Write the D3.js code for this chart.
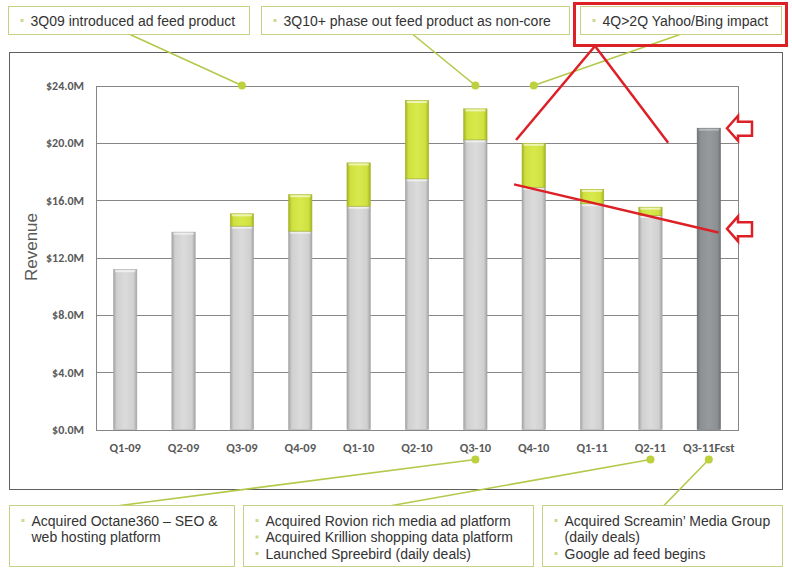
<!DOCTYPE html>
<html>
<head>
<meta charset="utf-8">
<script src="https://cdn.jsdelivr.net/npm/d3@7"></script>
<style>
body { margin: 0; background: #fff; }
</style>
</head>
<body>
<div class="chart"></div>
<script>
// quarters shown on the x axis
var categories = ["Q1-09", "Q2-09", "Q3-09", "Q4-09", "Q1-10", "Q2-10", "Q3-10", "Q4-10", "Q1-11", "Q2-11", "Q3-11Fcst"];
// revenue in $M
var coreRevenue = [11.15, 13.77, 14.19, 13.84, 15.58, 17.49, 20.21, 16.9, 15.75, 14.93, 0];
var feedRevenue = [0, 0, 0.86, 2.54, 3.02, 5.46, 2.16, 3.07, 1.0, 0.58, 0];
var forecastRevenue = [0, 0, 0, 0, 0, 0, 0, 0, 0, 0, 21.02];
var yTicks = [0, 4, 8, 12, 16, 20, 24];

// callouts
var topNotes = [["3Q09 introduced ad feed product"], ["3Q10+ phase out feed product as non-core"], ["4Q>2Q Yahoo/Bing impact"]];
var topNoteCats = ["Q3-09", "Q3-10", "Q4-10"];
var bottomNotes = [
	["Acquired Octane360 \u2013 SEO &", "web hosting platform"],
	["Acquired Rovion rich media ad platform", "Acquired Krillion shopping data platform", "Launched Spreebird (daily deals)"],
	["Acquired Screamin\u2019 Media Group", "(daily deals)", "Google ad feed begins"]
];
var bottomBullets = [[1, 0], [1, 1, 1], [1, 0, 1]];
var bottomNoteCats = ["Q3-10", "Q2-11", "Q3-11Fcst"];

// red markup: trend from Q4-10 to forecast
var trendStart = 17.1, trendEnd = 13.75, trendArrow = 14.0;

// box layout
var topBoxes = [
	{x: 8.5, y: 6.5, w: 241, h: 28, lx: 130},
	{x: 261.5, y: 6.5, w: 308, h: 28, lx: 413},
	{x: 580.5, y: 6.5, w: 201, h: 28, lx: 680}
];
var bottomBoxes = [
	{x: 9.5, y: 505.5, w: 225, h: 61, lx: 120},
	{x: 243.5, y: 505.5, w: 290, h: 61, lx: 392},
	{x: 542.5, y: 505.5, w: 240, h: 61, lx: 664}
];

var width = 792, height = 569;
var plotLeft = 96, plotRight = 738, plotTop = 85.5, plotBottom = 429.5;

var svg = d3.select(".chart").append("svg")
	.attr("width", width)
	.attr("height", height)
	.style("display", "block");

var x = d3.scaleBand()
	.domain(categories)
	.range([plotLeft, plotRight])
	.paddingInner(0.6)
	.paddingOuter(0.3);

var y = d3.scaleLinear()
	.domain([0, 24])
	.range([plotBottom, plotTop]);

// gradients for the bevelled bars
var defs = svg.append("defs");
function gradient(id, edge, mid, center) {
	var g = defs.append("linearGradient").attr("id", id)
		.attr("x1", "0%").attr("x2", "100%").attr("y1", "0%").attr("y2", "0%");
	g.append("stop").attr("offset", "0%").attr("stop-color", edge);
	g.append("stop").attr("offset", "14%").attr("stop-color", mid);
	g.append("stop").attr("offset", "50%").attr("stop-color", center);
	g.append("stop").attr("offset", "86%").attr("stop-color", mid);
	g.append("stop").attr("offset", "100%").attr("stop-color", edge);
}
gradient("g-core", "#a4a4a4", "#d0d0d0", "#dbdbdb");
gradient("g-feed", "#a3b324", "#cfe03e", "#d8e94d");
gradient("g-forecast", "#6f7376", "#8c9093", "#969a9d");

// outer chart frame
svg.append("rect")
	.attr("x", 9.5).attr("y", 52.5)
	.attr("width", 773).attr("height", 437)
	.attr("fill", "none")
	.attr("stroke", "#5f5f5f");

// gridlines
svg.append("g").selectAll("line")
	.data(yTicks)
	.enter().append("line")
	.attr("x1", plotLeft).attr("x2", plotRight)
	.attr("y1", function (d) { return Math.round(y(d)) + 0.5; })
	.attr("y2", function (d) { return Math.round(y(d)) + 0.5; })
	.attr("stroke", "#868686");

svg.append("rect")
	.attr("x", plotLeft + 0.5).attr("y", Math.round(y(24)) + 0.5)
	.attr("width", plotRight - plotLeft).attr("height", Math.round(y(0)) - Math.round(y(24)))
	.attr("fill", "none")
	.attr("stroke", "#868686");

// axes
var yAxis = svg.append("g")
	.attr("transform", "translate(" + plotLeft + ",0)")
	.call(d3.axisLeft(y).tickValues(yTicks).tickSize(0).tickPadding(12)
		.tickFormat(function (d) { return "$" + d.toFixed(1) + "M"; }));
yAxis.select(".domain").remove();
yAxis.selectAll("text")
	.attr("fill", "#595959")
	.style("font-family", "Carlito, Lato, sans-serif")
	.style("font-weight", "bold")
	.style("font-size", "12px");

var xAxis = svg.append("g")
	.attr("transform", "translate(0," + plotBottom + ")")
	.call(d3.axisBottom(x).tickSize(0).tickPadding(14));
xAxis.select(".domain").remove();
xAxis.selectAll("text")
	.attr("fill", "#595959")
	.style("font-family", "Carlito, Lato, sans-serif")
	.style("font-weight", "bold")
	.style("font-size", "12.5px");

svg.append("text")
	.attr("transform", "translate(31,247) rotate(-90)")
	.attr("text-anchor", "middle")
	.attr("dominant-baseline", "central")
	.attr("fill", "#595959")
	.style("font-family", "'Liberation Sans', Arial, sans-serif")
	.style("font-size", "17px")
	.text("Revenue");

// stacked bars
var rows = categories.map(function (c, i) {
	return {cat: c, core: coreRevenue[i], feed: feedRevenue[i], forecast: forecastRevenue[i]};
});
var series = d3.stack().keys(["core", "feed", "forecast"])(rows);
var strokes = {core: "#a8a8a8", feed: "#a4b42a", forecast: "#6b6f72"};

var layers = svg.append("g").selectAll("g")
	.data(series)
	.enter().append("g")
	.attr("class", function (s) { return "serie " + s.key; });

layers.selectAll("rect.bar")
	.data(function (s) {
		return s.filter(function (d) { return d[1] - d[0] > 0; })
			.map(function (d) { return {key: s.key, y0: d[0], y1: d[1], cat: d.data.cat}; });
	})
	.enter().append("rect")
	.attr("class", "bar")
	.attr("x", function (d) { return x(d.cat); })
	.attr("width", x.bandwidth())
	.attr("y", function (d) { return y(d.y1); })
	.attr("height", function (d) { return y(d.y0) - y(d.y1); })
	.attr("fill", function (d) { return "url(#g-" + d.key + ")"; })
	.attr("stroke", function (d) { return strokes[d.key]; })
	.attr("stroke-width", 0.6);

// light bevel on the top of each segment
layers.selectAll("rect.cap")
	.data(function (s) {
		return s.filter(function (d) { return d[1] - d[0] > 0; })
			.map(function (d) { return {key: s.key, y1: d[1], cat: d.data.cat}; });
	})
	.enter().append("rect")
	.attr("class", "cap")
	.attr("x", function (d) { return x(d.cat) + 1.5; })
	.attr("width", x.bandwidth() - 3)
	.attr("y", function (d) { return y(d.y1) + 0.5; })
	.attr("height", 2)
	.attr("fill", "#ffffff")
	.attr("opacity", function (d) { return d.key == "forecast" ? 0.35 : 0.6; });

// callouts
var green = "#b3c94a", dotGreen = "#bcd13b", boxLine = "#c7d183", textCol = "#333333";
var font = "'Liberation Sans', Arial, sans-serif";

function drawBox(b, lines, bullets) {
	svg.append("rect")
		.attr("x", b.x).attr("y", b.y)
		.attr("width", b.w).attr("height", b.h)
		.attr("fill", "#fff")
		.attr("stroke", boxLine);
	var startY = lines.length == 1 ? b.y + b.h / 2 : b.y + 15;
	lines.forEach(function (t, i) {
		var ty = startY + i * 16.5;
		if (bullets[i]) {
			svg.append("rect")
				.attr("x", b.x + 12).attr("y", ty - 1.5)
				.attr("width", 3).attr("height", 3)
				.attr("fill", "#cbd98d");
		}
		svg.append("text")
			.attr("x", b.x + 22).attr("y", ty)
			.attr("dominant-baseline", "central")
			.attr("fill", textCol)
			.style("font-family", font)
			.style("font-size", "14px")
			.text(t);
	});
}

topNotes.forEach(function (lines, i) {
	var b = topBoxes[i];
	var cx = x(topNoteCats[i]) + x.bandwidth() / 2;
	svg.append("line")
		.attr("x1", b.lx).attr("y1", b.y + b.h)
		.attr("x2", cx).attr("y2", y(24))
		.attr("stroke", green).attr("stroke-width", 1.6);
	svg.append("circle")
		.attr("cx", cx).attr("cy", y(24)).attr("r", 4)
		.attr("fill", dotGreen);
	drawBox(b, lines, lines.map(function () { return 1; }));
});

bottomNotes.forEach(function (lines, i) {
	var b = bottomBoxes[i];
	var cx = x(bottomNoteCats[i]) + x.bandwidth() / 2;
	var cy = y(0) + 30;
	svg.append("line")
		.attr("x1", b.lx).attr("y1", b.y)
		.attr("x2", cx).attr("y2", cy)
		.attr("stroke", green).attr("stroke-width", 1.6);
	svg.append("circle")
		.attr("cx", cx).attr("cy", cy).attr("r", 4)
		.attr("fill", dotGreen);
	drawBox(b, lines, bottomBullets[i]);
});

// red markup
var red = "#dd1f26";
svg.append("rect")
	.attr("x", 574.5).attr("y", 3.5)
	.attr("width", 212).attr("height", 42)
	.attr("fill", "none")
	.attr("stroke", red).attr("stroke-width", 3);

var apexX = 595, apexY = 46;
svg.append("line")
	.attr("x1", apexX).attr("y1", apexY)
	.attr("x2", x("Q4-10") - 6).attr("y2", y(20.2))
	.attr("stroke", red).attr("stroke-width", 2.5);
svg.append("line")
	.attr("x1", apexX).attr("y1", apexY)
	.attr("x2", x("Q2-11") + x.bandwidth() + 6).attr("y2", y(20))
	.attr("stroke", red).attr("stroke-width", 2.5);

svg.append("line")
	.attr("x1", x("Q4-10") - 8).attr("y1", y(trendStart))
	.attr("x2", x("Q3-11Fcst") + x.bandwidth() - 2).attr("y2", y(trendEnd))
	.attr("stroke", red).attr("stroke-width", 2.5);

function arrow(ty) {
	var tx = plotRight - 11;
	var pts = [[0, 0], [11, -12.5], [11, -6.5], [25, -6.5], [25, 7.5], [11, 7.5], [11, 12.5]];
	svg.append("polygon")
		.attr("points", pts.map(function (p) { return (tx + p[0]) + "," + (ty + p[1]); }).join(" "))
		.attr("fill", "#fff")
		.attr("stroke", red)
		.attr("stroke-width", 2.5);
}
arrow(y(d3.max(forecastRevenue)));
arrow(y(trendArrow));
</script>
</body>
</html>
